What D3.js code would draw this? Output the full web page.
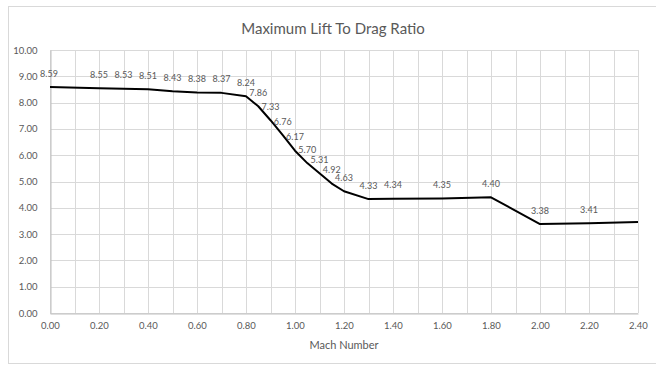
<!DOCTYPE html>
<html>
<head>
<meta charset="utf-8">
<script src="https://cdn.jsdelivr.net/npm/d3@7"></script>
<style>
  html, body { margin: 0; padding: 0; background: #fff; }
  svg { display: block; font-family: Lato, "Open Sans", sans-serif; }
</style>
</head>
<body>
<svg id="chart" width="656" height="365"></svg>
<script>
// Maximum lift-to-drag ratio versus Mach number
const mach = [0.00, 0.20, 0.30, 0.40, 0.50, 0.60, 0.70, 0.80, 0.85, 0.90, 0.95, 1.00,
              1.05, 1.10, 1.15, 1.20, 1.30, 1.40, 1.60, 1.80, 2.00, 2.20, 2.40];
const ldMax = [8.59, 8.55, 8.53, 8.51, 8.43, 8.38, 8.37, 8.24, 7.86, 7.33, 6.76, 6.17,
               5.70, 5.31, 4.92, 4.63, 4.33, 4.34, 4.35, 4.40, 3.38, 3.41, 3.46];
// the final point carries no label
const showLabel = mach.map((m, i) => i < mach.length - 1);

const xTicks = [0, 0.2, 0.4, 0.6, 0.8, 1.0, 1.2, 1.4, 1.6, 1.8, 2.0, 2.2, 2.4];
const xMinor = d3.range(0, 25).map(i => i / 10);
const yTicks = [0, 1, 2, 3, 4, 5, 6, 7, 8, 9, 10];

const title = "Maximum Lift To Drag Ratio";
const xTitle = "Mach Number";

const svg = d3.select("#chart");
const W = 656, H = 365;
const plot = { left: 50, right: 638, top: 50, bottom: 313 };

const textColor = "#595959";
const gridColor = "#d9d9d9";
const axisColor = "#bfbfbf";

// chart frame
svg.append("rect")
  .attr("x", 8.5).attr("y", 6.5)
  .attr("width", W).attr("height", 357)
  .attr("fill", "#fff").attr("stroke", "#d9d9d9").attr("stroke-width", 1);

const x = d3.scaleLinear().domain([0, 2.4]).range([plot.left, plot.right]);
const y = d3.scaleLinear().domain([0, 10]).range([plot.bottom, plot.top]);

// vertical gridlines every 0.1
svg.append("g")
  .selectAll("line").data(xMinor.concat([2.4])).join("line")
  .attr("x1", d => Math.round(x(d)) + 0.5).attr("x2", d => Math.round(x(d)) + 0.5)
  .attr("y1", plot.top).attr("y2", plot.bottom)
  .attr("stroke", gridColor).attr("stroke-width", 1);

// horizontal gridlines
svg.append("g")
  .selectAll("line").data(yTicks).join("line")
  .attr("x1", plot.left).attr("x2", plot.right)
  .attr("y1", d => Math.round(y(d)) + 0.5).attr("y2", d => Math.round(y(d)) + 0.5)
  .attr("stroke", gridColor).attr("stroke-width", 1);

// axes
const xAxis = d3.axisBottom(x).tickValues(xTicks).tickFormat(d3.format(".2f")).tickSize(0).tickPadding(9);
const yAxis = d3.axisLeft(y).tickValues(yTicks).tickFormat(d3.format(".2f")).tickSize(0).tickPadding(13);

const gx = svg.append("g").attr("transform", `translate(0,${Math.round(plot.bottom) + 0.5})`).call(xAxis);
const gy = svg.append("g").attr("transform", `translate(${plot.left + 0.5},0)`).call(yAxis);
[gx, gy].forEach(g => {
  g.select(".domain").attr("stroke", axisColor);
  g.selectAll("text").attr("fill", textColor).attr("font-size", 9.5)
    .attr("font-family", "Lato, sans-serif");
});

// data line
const line = d3.line().x((d, i) => x(mach[i])).y(d => y(d));
svg.append("path")
  .datum(ldMax)
  .attr("d", line)
  .attr("fill", "none")
  .attr("stroke", "#000")
  .attr("stroke-width", 2)
  .attr("stroke-linejoin", "round");

// data labels above each point
svg.append("g")
  .selectAll("text").data(ldMax.map((v, i) => ({ m: mach[i], v, i })).filter(d => showLabel[d.i]))
  .join("text")
  .attr("x", d => x(d.m) + (d.i === 0 ? -1 : 0))
  .attr("y", d => y(d.v) - 10.5)
  .attr("text-anchor", "middle")
  .attr("fill", textColor)
  .attr("font-size", 9)
  .text(d => d.v.toFixed(2));

// titles
svg.append("text")
  .attr("x", 333).attr("y", 34)
  .attr("text-anchor", "middle")
  .attr("fill", textColor)
  .attr("font-size", 15)
  .text(title);

svg.append("text")
  .attr("x", 344).attr("y", 349)
  .attr("text-anchor", "middle")
  .attr("fill", textColor)
  .attr("font-size", 11)
  .text(xTitle);
</script>
</body>
</html>
